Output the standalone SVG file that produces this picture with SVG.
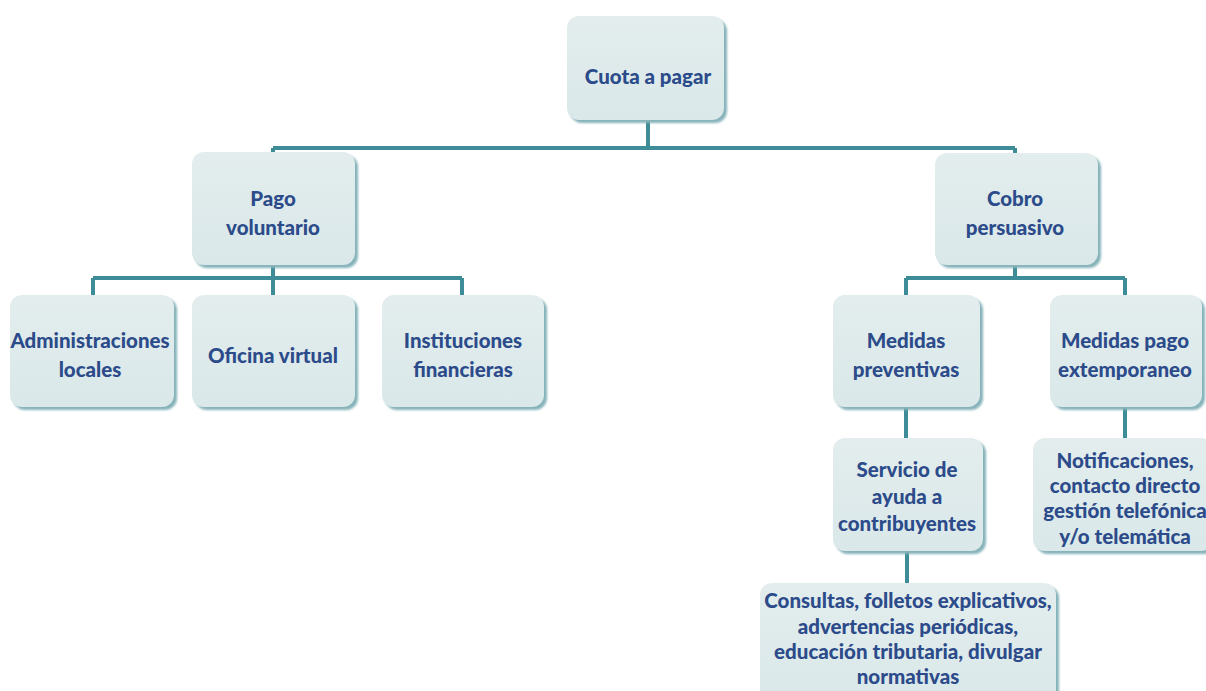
<svg xmlns="http://www.w3.org/2000/svg" width="1206" height="691" viewBox="0 0 1206 691">
<style>
.sh{fill:#86b3ba}
.bx{fill:url(#g)}
.t{font-family:Lato,"Open Sans","Liberation Sans",sans-serif;font-weight:900;font-size:20.5px;fill:#2c4b8a;text-anchor:middle}
.c{fill:none;stroke:#3d8c97;stroke-width:4}
</style>
<defs>
<linearGradient id="g" x1="0" y1="0" x2="0" y2="1">
<stop offset="0" stop-color="#e3eded"/>
<stop offset="1" stop-color="#dae8e9"/>
</linearGradient>
<filter id="f" x="-10%" y="-10%" width="120%" height="120%"><feGaussianBlur stdDeviation="1.2"/></filter>
</defs>
<rect width="1206" height="691" fill="#ffffff"/>
<g id="connectors">
<path class="c" d="M648 120V148M273 148H1015M273 148V155M1015 148V155"/>
<path class="c" d="M273 265V278M93 278H462M93 278V298M273 278V298M462 278V298"/>
<path class="c" d="M1015 265V278M906 278H1125M906 278V298M1125 278V298"/>
<path class="c" d="M906 408V441M1125 408V441"/>
<path class="c" d="M907 551V585"/>
</g>
<g id="n1"><rect class="sh" x="570" y="19" width="157" height="104" rx="12" filter="url(#f)"/><rect class="bx" x="567" y="16" width="157" height="104" rx="12"/><text class="t" x="648" y="84">Cuota a pagar</text></g>
<g id="n2"><rect class="sh" x="195" y="155" width="163" height="113" rx="12" filter="url(#f)"/><rect class="bx" x="192" y="152" width="163" height="113" rx="12"/><text class="t" x="273" y="206">Pago</text><text class="t" x="273" y="235">voluntario</text></g>
<g id="n3"><rect class="sh" x="938" y="156" width="163" height="112" rx="12" filter="url(#f)"/><rect class="bx" x="935" y="153" width="163" height="112" rx="12"/><text class="t" x="1015" y="206">Cobro</text><text class="t" x="1015" y="235">persuasivo</text></g>
<g id="n4"><rect class="sh" x="13" y="298" width="164" height="112" rx="12" filter="url(#f)"/><rect class="bx" x="10" y="295" width="164" height="112" rx="12"/><text class="t" x="90" y="348">Administraciones</text><text class="t" x="90" y="377">locales</text></g>
<g id="n5"><rect class="sh" x="195" y="298" width="163" height="112" rx="12" filter="url(#f)"/><rect class="bx" x="192" y="295" width="163" height="112" rx="12"/><text class="t" x="273" y="363">Oficina virtual</text></g>
<g id="n6"><rect class="sh" x="385" y="298" width="162" height="112" rx="12" filter="url(#f)"/><rect class="bx" x="382" y="295" width="162" height="112" rx="12"/><text class="t" x="463" y="348">Instituciones</text><text class="t" x="463" y="377">financieras</text></g>
<g id="n7"><rect class="sh" x="836" y="298" width="147" height="112" rx="12" filter="url(#f)"/><rect class="bx" x="833" y="295" width="147" height="112" rx="12"/><text class="t" x="906" y="348">Medidas</text><text class="t" x="906" y="377">preventivas</text></g>
<g id="n8"><rect class="sh" x="1053" y="298" width="152" height="112" rx="12" filter="url(#f)"/><rect class="bx" x="1050" y="295" width="152" height="112" rx="12"/><text class="t" x="1125" y="348">Medidas pago</text><text class="t" x="1125" y="377">extemporaneo</text></g>
<g id="n9"><rect class="sh" x="836" y="441" width="150" height="113" rx="12" filter="url(#f)"/><rect class="bx" x="833" y="438" width="150" height="113" rx="12"/><text class="t" x="907" y="477">Servicio de</text><text class="t" x="907" y="504">ayuda a</text><text class="t" x="907" y="531">contribuyentes</text></g>
<g id="n10"><rect class="sh" x="1036" y="441" width="180" height="113" rx="12" filter="url(#f)"/><rect class="bx" x="1033" y="438" width="180" height="113" rx="12"/><text class="t" x="1125" y="468">Notificaciones,</text><text class="t" x="1125" y="493">contacto directo</text><text class="t" x="1125" y="518">gestión telefónica</text><text class="t" x="1125" y="544">y/o telemática</text></g>
<g id="n11"><rect class="sh" x="763" y="586" width="296" height="120" rx="12" filter="url(#f)"/><rect class="bx" x="760" y="583" width="296" height="120" rx="12"/><text class="t" x="908" y="608">Consultas, folletos explicativos,</text><text class="t" x="908" y="634">advertencias periódicas,</text><text class="t" x="908" y="659">educación tributaria, divulgar</text><text class="t" x="908" y="684">normativas</text></g>
</svg>
